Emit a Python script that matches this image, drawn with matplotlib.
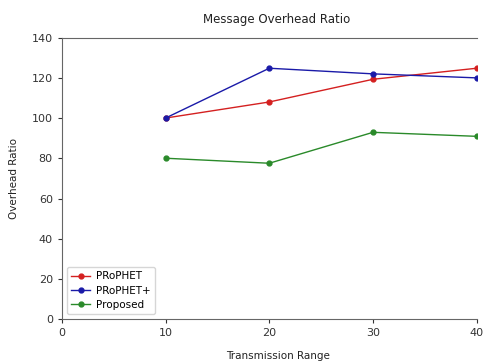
import matplotlib.pyplot as plt

ranges = [10, 20, 30, 40]
prophet = [100.1, 108.1, 119.4, 124.9]
prophet_plus = [100.1, 124.9, 122.1, 120.1]
proposed = [80.1, 77.6, 93.0, 91.0]

fig = plt.figure(figsize=(4.83, 3.61), dpi=100)
ax = fig.add_axes([0.128, 0.116, 0.859, 0.779])

ax.plot(ranges, prophet, color='#d42020', marker='o', markersize=3.5, linewidth=1, label='PRoPHET')
ax.plot(ranges, prophet_plus, color='#1a1aa8', marker='o', markersize=3.5, linewidth=1, label='PRoPHET+')
ax.plot(ranges, proposed, color='#2a8a2a', marker='o', markersize=3.5, linewidth=1, label='Proposed')

ax.set_xlim(0, 40)
ax.set_ylim(0, 140)
ax.set_xticks([0, 10, 20, 30, 40])
ax.set_yticks(range(0, 141, 20))
ax.tick_params(labelsize=8, length=3, colors='#333333')
for s in ['left', 'bottom', 'top']:
    ax.spines[s].set_color('#666666')
ax.spines['right'].set_visible(False)

# the source image looks cropped on the right, so centre texts a bit right
ax.set_title('Message Overhead Ratio', fontsize=8.5, pad=11, color='#222222', x=0.517)
ax.set_xlabel('Transmission Range', fontsize=7.5, labelpad=9, color='#222222', x=0.522)
ax.set_ylabel('Overhead Ratio', fontsize=7.5, labelpad=9, color='#222222')
ax.legend(loc='lower left', fontsize=7.5, handlelength=1.8, borderaxespad=0.5,
          handletextpad=0.6, labelspacing=0.4)

fig.savefig('out.png', dpi=100)
